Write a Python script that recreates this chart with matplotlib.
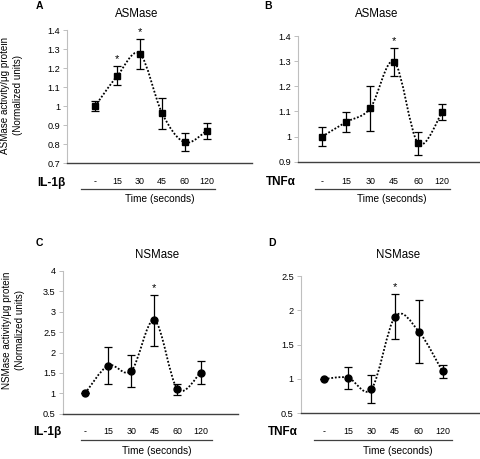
#!/usr/bin/env python3

from matplotlib import pyplot as plt
from matplotlib.path import Path
from matplotlib.patches import PathPatch
from matplotlib.lines import Line2D
from matplotlib import transforms
import numpy as np

plt.rcParams['font.family'] = ['Liberation Sans', 'DejaVu Sans']

'''
Sphingomyelinase activity after IL-1b / TNFa stimulation
'''

time_labels = ['-', '15', '30', '45', '60', '120']

# A: ASMase, IL-1b
asm_il_mean = [1.00, 1.16, 1.275, 0.962, 0.81, 0.872]
asm_il_err  = [0.025, 0.05, 0.078, 0.081, 0.048, 0.042]
asm_il_sig  = [1, 2]

# B: ASMase, TNFa
asm_tnf_mean = [1.00, 1.058, 1.112, 1.298, 0.973, 1.097]
asm_tnf_err  = [0.038, 0.04, 0.089, 0.056, 0.047, 0.032]
asm_tnf_sig  = [3]

# C: NSMase, IL-1b
nsm_il_mean = [1.00, 1.68, 1.55, 2.79, 1.10, 1.51]
nsm_il_err  = [0.0, 0.46, 0.39, 0.63, 0.14, 0.28]
nsm_il_sig  = [3]

# D: NSMase, TNFa
nsm_tnf_mean = [1.00, 1.02, 0.855, 1.91, 1.69, 1.11]
nsm_tnf_err  = [0.0, 0.16, 0.21, 0.33, 0.46, 0.10]
nsm_tnf_sig  = [3]

W, H = 480, 459


def fx(px):
    return px / W


def fy(py):
    return 1 - py / H


def smooth_path(x, y):
    # excel style smoothed line: catmull-rom as cubic bezier
    pts = np.column_stack([x, y]).astype(float)
    n = len(pts)
    verts = [pts[0]]
    codes = [Path.MOVETO]
    for i in range(n - 1):
        p0 = pts[max(i - 1, 0)]
        p1 = pts[i]
        p2 = pts[i + 1]
        p3 = pts[min(i + 2, n - 1)]
        c1 = p1 + (p2 - p0) / 6
        c2 = p2 - (p3 - p1) / 6
        verts += [c1, c2, p2]
        codes += [Path.CURVE4] * 3
    return Path(verts, codes)


def panel(fig, box, means, errs, sig, ylim, yticks, xlim, marker, title, letter,
          title_xy, letter_xy, tick_y, group, group_xy, rule, time_xy):
    l, t, r, b = box
    ax = fig.add_axes([fx(l), fy(b), fx(r - l), (b - t) / H])
    ax.patch.set_alpha(0)
    x = np.arange(len(means))

    ax.add_patch(PathPatch(smooth_path(x, means), facecolor='none', edgecolor='black',
                           lw=1.3, linestyle=(0, (1, 1)), zorder=2))
    ax.errorbar(x, means, yerr=errs, fmt='none', ecolor='black', elinewidth=0.9,
                capsize=2.8, capthick=0.9, zorder=3)
    ax.plot(x, means, linestyle='none', marker=marker, ms=5, color='black', zorder=4)

    for i in sig:
        ax.annotate('*', (x[i], means[i] + errs[i]), xytext=(0, 1.2), textcoords='offset points',
                    ha='center', va='bottom', fontsize=8)

    ax.set_xlim(*xlim)
    ax.set_ylim(*ylim)
    ax.set_yticks(yticks, [f'{round(v, 2):g}' for v in yticks])
    ax.set_xticks([])
    ax.tick_params(axis='y', direction='out', length=3, width=0.7, color='#bfbfbf',
                   labelsize=6.6, pad=2)
    for s in ['top', 'right']:
        ax.spines[s].set_visible(False)
    ax.spines['left'].set_color('#bfbfbf')
    ax.spines['left'].set_linewidth(0.8)
    ax.spines['bottom'].set_color('#404040')
    ax.spines['bottom'].set_linewidth(1.0)

    trans = transforms.blended_transform_factory(ax.transData, fig.transFigure)
    for xi, lab in zip(x, time_labels):
        ax.text(xi, fy(tick_y), lab, transform=trans, ha='center', va='center', fontsize=6.4)

    fig.text(fx(title_xy[0]), fy(title_xy[1]), title, ha='center', va='center', fontsize=8.3)
    fig.text(fx(letter_xy[0]), fy(letter_xy[1]), letter, ha='center', va='center',
             fontsize=7.5, fontweight='bold')
    fig.text(fx(group_xy[0]), fy(group_xy[1]), group, ha='center', va='center',
             fontsize=8.5, fontweight='bold')
    fig.add_artist(Line2D([fx(rule[0]), fx(rule[1])], [fy(rule[2])] * 2, color='#404040', lw=0.9))
    fig.text(fx(time_xy[0]), fy(time_xy[1]), 'Time (seconds)', ha='center', va='center', fontsize=7.3)
    return ax


fig = plt.figure(figsize=(W / 100, H / 100), dpi=100)

panel(fig, (67.3, 30, 251.7, 163.3), asm_il_mean, asm_il_err, asm_il_sig,
      (0.7, 1.4), np.arange(0.7, 1.41, 0.1), (-1.24, 7.0), 's', 'ASMase', 'A',
      (137, 14), (39, 6), 181.5, 'IL-1β', (51, 182.5), (81, 215, 189), (159.5, 199))
panel(fig, (298, 36, 479, 161.7), asm_tnf_mean, asm_tnf_err, asm_tnf_sig,
      (0.9, 1.4), np.arange(0.9, 1.41, 0.1), (-1.01, 6.54), 's', 'ASMase', 'B',
      (377, 14), (268, 6), 181.5, 'TNFα', (281, 182), (315, 450, 189), (391.5, 199))
panel(fig, (62.7, 271, 238, 413.7), nsm_il_mean, nsm_il_err, nsm_il_sig,
      (0.5, 4.0), np.arange(0.5, 4.01, 0.5), (-0.97, 6.62), 'o', 'NSMase', 'C',
      (157, 255), (39, 243), 432, 'IL-1β', (47, 432), (81, 212, 440), (157, 451))
panel(fig, (300.7, 276, 479, 413.3), nsm_tnf_mean, nsm_tnf_err, nsm_tnf_sig,
      (0.5, 2.5), np.arange(0.5, 2.51, 0.5), (-0.99, 6.54), 'o', 'NSMase', 'D',
      (398, 255), (272, 243), 432, 'TNFα', (283, 432), (314, 452, 440), (398, 451))

fig.text(fx(11.5), fy(95), 'ASMase activity/μg protein\n(Normalized units)', rotation=90,
         ha='center', va='center', fontsize=7.1, linespacing=1.3, multialignment='center')
fig.text(fx(13.5), fy(330), 'NSMase activity/μg protein\n(Normalized units)', rotation=90,
         ha='center', va='center', fontsize=7.1, linespacing=1.3, multialignment='center')

plt.savefig('out.png', dpi=100)
